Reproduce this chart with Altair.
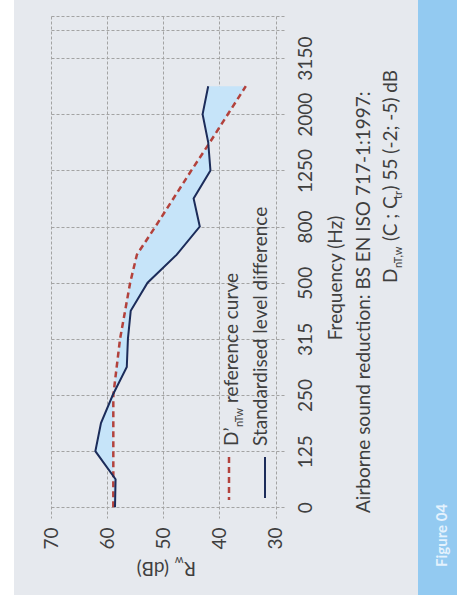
import altair as alt
import pandas as pd

FONT = "Lato"
TXT = "#3f3f3f"

# ---- data ----
freq_labels = ["0", "125", "250", "315", "500", "800", "1250", "2000", "3150"]
band_pos = [0, 0.5, 1, 1.5, 2, 2.5, 3, 3.5, 4, 4.5, 5, 5.5, 6, 6.5, 7, 7.5]
measured = [58.6, 58.5, 62.1, 61.1, 59.0, 56.5, 56.3, 55.8, 52.8, 47.6, 43.5, 44.6, 41.6, 42.0, 43.0, 42.0]
reference = [58.9, 58.9, 58.9, 58.9, 58.9, 58.3, 57.7, 56.8, 55.9, 54.7, 51.4, 48.2, 45.0, 41.7, 38.5, 35.3]
db_ticks = [30, 40, 50, 60, 70]

# plot-area geometry (pixels)
L, T, W, H = 51, 16, 233, 502
CW, CH = 457, 607

df = pd.DataFrame({"pos": band_pos, "measured": measured, "reference": reference})

xs = alt.Scale(domain=[28.5, 70], reverse=True, nice=False, zero=False)
ys = alt.Scale(domain=[-0.19, 8.75], nice=False, zero=False)

lab_js = "[" + ",".join("'%s'" % s for s in freq_labels) + "]"

xaxis = alt.Axis(orient="bottom", values=db_ticks, grid=True, gridDash=[3, 2],
                 gridColor="#a3a3a3", gridWidth=1, domain=False, ticks=False,
                 labelAngle=270, labelAlign="right", labelBaseline="middle",
                 labelPadding=9, labelFontSize=19, labelFont=FONT, labelColor=TXT,
                 labelFlush=False, labelOverlap=False, title=None)
yaxis = alt.Axis(orient="right", values=list(range(9)) + [8.5, 8.75], grid=True,
                 gridDash=[3, 2], gridColor="#a3a3a3", gridWidth=1, domain=False,
                 ticks=False, labelAngle=270, labelAlign="center", labelBaseline="top",
                 labelPadding=12, labelFontSize=19, labelFont=FONT, labelColor=TXT,
                 labelFlush=False, labelOverlap=False, title=None,
                 labelExpr="datum.value <= 8 && datum.value == floor(datum.value) ? "
                           + lab_js + "[datum.value] : ''")

one = pd.DataFrame({"a": [0]})


def px(v, axis):
    return alt.value(v - (L if axis == "x" else T))


def rect(x0, x1, y0, y1, color):
    return alt.Chart(one).mark_rect(color=color).encode(
        x=px(x0, "x"), x2=px(x1, "x"), y=px(y0, "y"), y2=px(y1, "y"))


def txt(s, x, y, size=19, angle=270, align="left", color=TXT, weight="normal"):
    return alt.Chart(one).mark_text(text=s, angle=angle, align=align,
                                    baseline="alphabetic", font=FONT, fontSize=size,
                                    color=color, fontWeight=weight).encode(
        x=px(x, "x"), y=px(y, "y"))


bg = [
    rect(0, 14, 0, CH, "white"),
    rect(0, CW, 595, CH, "white"),
    rect(418, CW, 0, 595, "#93caf1"),
]

area = alt.Chart(df).mark_area(orient="horizontal", color="#c6e4f9").encode(
    y=alt.Y("pos:Q", scale=ys, axis=yaxis),
    x=alt.X("measured:Q", scale=xs, axis=xaxis),
    x2="reference:Q",
)
ref_line = alt.Chart(df).mark_line(color="#b3423c", strokeWidth=2.5,
                                   strokeDash=[6, 4]).encode(
    y=alt.Y("pos:Q", scale=ys), x=alt.X("reference:Q", scale=xs), order="pos:Q")
meas_line = alt.Chart(df).mark_line(color="#1c2c5a", strokeWidth=2).encode(
    y=alt.Y("pos:Q", scale=ys), x=alt.X("measured:Q", scale=xs), order="pos:Q")

leg_ref = alt.Chart(one).mark_rule(color="#b3423c", strokeWidth=2.5,
                                   strokeDash=[6, 4]).encode(
    x=px(229, "x"), y=px(457, "y"), y2=px(500, "y"))
leg_meas = alt.Chart(one).mark_rule(color="#1c2c5a", strokeWidth=2).encode(
    x=px(265, "x"), y=px(457, "y"), y2=px(498, "y"))

texts = [
    # legend
    txt("D’", 238, 446),
    txt("nTw", 243, 427, size=11),
    txt("reference curve", 238, 403),
    txt("Standardised level difference", 267, 446),
    # y-axis (dB) title, upside down
    txt("R", 196, 562, angle=180),
    txt("w", 183.5, 556.5, size=11, angle=180),
    txt("(dB)", 169, 562, angle=180),
    # frequency title
    txt("Frequency (Hz)", 342, 278, align="center"),
    # notes
    txt("Airborne sound reduction: BS EN ISO 717-1:1997:", 370, 513),
    txt("D", 397, 283),
    txt("nT,w", 401.5, 268, size=11),
    txt("(C ; C", 397, 241),
    txt("tr", 401.5, 199, size=11),
    txt(") 55 (-2; -5) dB", 397, 190.5),
    # figure label
    txt("Figure 04", 447, 567, size=15, color="#e4f2fd", weight="bold"),
]

chart = alt.layer(*bg, area, ref_line, meas_line, leg_ref, leg_meas, *texts).properties(
    width=W, height=H,
    autosize=alt.AutoSizeParams(type="none"),
    padding={"left": L, "top": T, "right": CW - L - W, "bottom": CH - T - H},
    background="#e6e9ee",
).configure_view(stroke=None)

chart.save("out.html", embed_options={"renderer": "svg", "actions": False})
